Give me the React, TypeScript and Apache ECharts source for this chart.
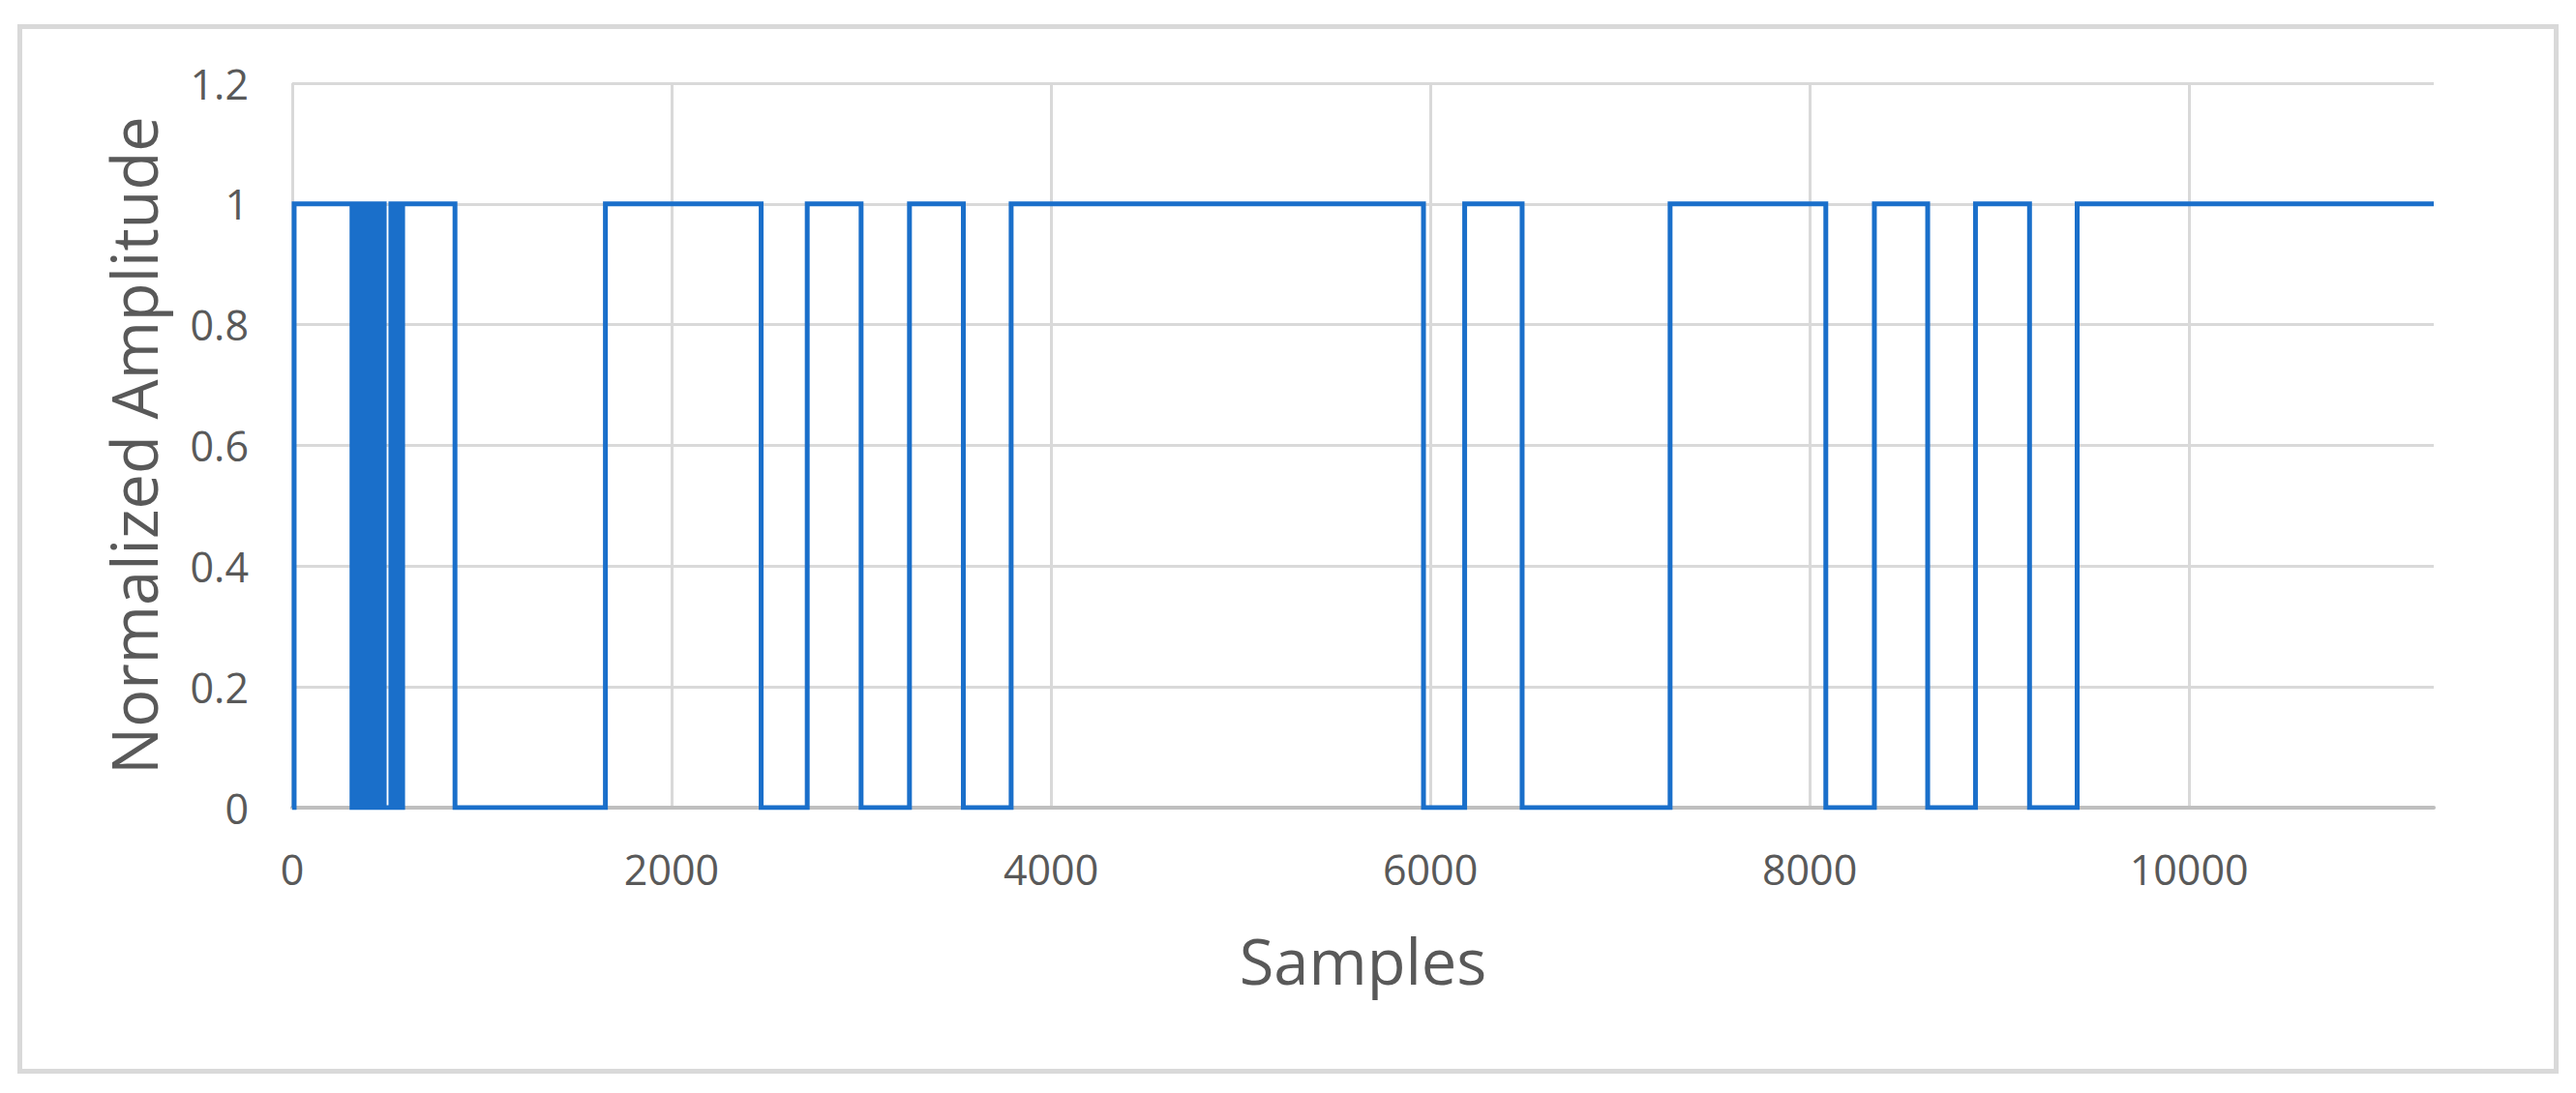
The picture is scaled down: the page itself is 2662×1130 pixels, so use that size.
import { useEffect, useRef } from 'react';
import * as echarts from 'echarts';

// sample index where the signal switches, and the level it switches to
const edgeSamples = [
  10, 315, 329, 343, 357, 371, 385, 399, 413, 427, 441, 455, 469, 485,
  520, 535, 550, 566, 582, 858, 1651, 2472, 2715, 2999, 3254, 3538, 3790,
  5964, 6181, 6484, 7264, 8085, 8341, 8622, 8874, 9159, 9410,
];
const edgeLevels = [
  1, 0, 1, 0, 1, 0, 1, 0, 1, 0, 1, 0, 1, 0,
  1, 0, 1, 0, 1, 0, 1, 0, 1, 0, 1, 0, 1,
  0, 1, 0, 1, 0, 1, 0, 1, 0, 1,
];
const startLevel = 0;
const lastSample = 11290;

const xTicks = [0, 2000, 4000, 6000, 8000, 10000];
const yTicks = [0, 0.2, 0.4, 0.6, 0.8, 1, 1.2];

const xTitle = 'Samples';
const yTitle = 'Normalized Amplitude';

export default function App() {
  const chartRef = useRef<HTMLDivElement>(null);

  useEffect(() => {
    if (!chartRef.current) return;
    const chart = echarts.init(chartRef.current, null, { renderer: 'svg' });

    const points: number[][] = [[0, startLevel]];
    edgeSamples.forEach((s, i) => points.push([s, edgeLevels[i]]));
    points.push([lastSample, edgeLevels[edgeLevels.length - 1]]);

    const textColor = '#595959';
    const gridColor = '#d9d9d9';
    const font = '"Open Sans", "Liberation Sans", sans-serif';

    const option: echarts.EChartsOption = {
      animation: false,
      backgroundColor: '#ffffff',
      graphic: [
        {
          type: 'rect',
          left: 18,
          top: 25,
          shape: { width: 2621, height: 1080 },
          style: { fill: 'none', stroke: gridColor, lineWidth: 5 },
          silent: true,
        },
      ],
      grid: { left: 302, top: 86, right: 147, bottom: 295 },
      xAxis: {
        type: 'value',
        min: xTicks[0],
        max: lastSample,
        interval: xTicks[1] - xTicks[0],
        name: xTitle,
        nameLocation: 'middle',
        nameGap: 125,
        nameTextStyle: { color: textColor, fontSize: 65, fontFamily: font },
        axisLine: { show: true, lineStyle: { color: '#bfbfbf', width: 4 } },
        axisTick: { show: false },
        axisLabel: {
          color: textColor,
          fontSize: 43,
          fontFamily: font,
          margin: 42,
          showMaxLabel: false,
          formatter: (v: number) => (xTicks.includes(v) ? String(v) : ''),
        },
        splitLine: {
          show: true,
          showMaxLine: false,
          lineStyle: { color: gridColor, width: 3 },
        },
      } as any,
      yAxis: {
        type: 'value',
        min: yTicks[0],
        max: yTicks[yTicks.length - 1],
        interval: 0.2,
        name: yTitle,
        nameLocation: 'middle',
        nameGap: 132,
        nameTextStyle: { color: textColor, fontSize: 65, fontFamily: font },
        axisLine: { show: false },
        axisTick: { show: false },
        axisLabel: {
          color: textColor,
          fontSize: 43,
          fontFamily: font,
          margin: 45,
          formatter: (v: number) => String(Math.round(v * 10) / 10),
        },
        splitLine: { show: true, lineStyle: { color: gridColor, width: 3 } },
      },
      series: [
        {
          type: 'line',
          step: 'end',
          data: points,
          showSymbol: false,
          symbol: 'none',
          lineStyle: { color: '#1a6fca', width: 5, join: 'miter' } as any,
          itemStyle: { color: '#1a6fca' },
        },
      ],
    };

    chart.setOption(option);
    return () => chart.dispose();
  }, []);

  return (
    <div
      ref={chartRef}
      style={{ position: 'absolute', left: 0, top: 0, width: 2662, height: 1130 }}
    />
  );
}
